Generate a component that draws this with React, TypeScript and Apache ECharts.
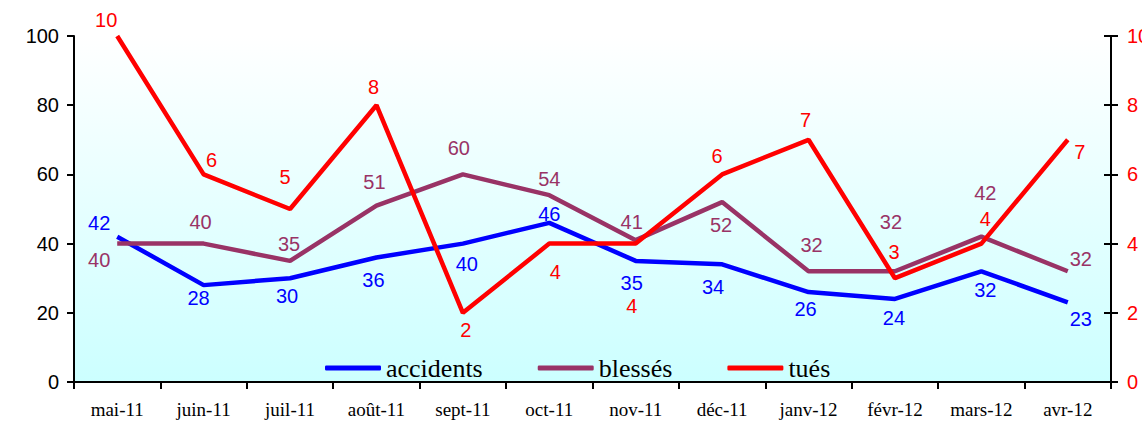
import React, { useEffect, useRef } from "react";
import * as echarts from "echarts";

const categories = ["mai-11", "juin-11", "juil-11", "août-11", "sept-11", "oct-11", "nov-11", "déc-11", "janv-12", "févr-12", "mars-12", "avr-12"];
const accidents = [42, 28, 30, 36, 40, 46, 35, 34, 26, 24, 32, 23];
const blesses = [40, 40, 35, 51, 60, 54, 41, 52, 32, 32, 42, 32];
const tues = [10, 6, 5, 8, 2, 4, 4, 6, 7, 3, 4, 7];

// label offsets (style only)
const accOff = [[-18, -14], [-5, 13], [-3, 18], [-3, 23], [4, 20], [0, -9], [-4, 22], [-9, 23], [-3, 17], [-1, 19], [4, 19], [13, 17]];
const blesOff = [[-18, 16], [-3, -22], [-1, -17], [-2, -24], [-4, -26], [0, -16], [-4, -18], [-1, 23], [3, -26], [-4, -49], [4, -44], [13, -12]];
const tuesOff = [[-11, -16], [8, -14], [-5, -32], [-3, -18], [3, 17], [6, 28], [-4, 62], [-5, -18], [-3, -20], [-1, -26], [4, -25], [12, 12]];

const SANS = "'Liberation Sans', Arial, sans-serif";
const SERIF = "'Liberation Serif', 'Times New Roman', serif";

function mk(name: string, vals: number[], offs: number[][], color: string, yAxisIndex: number) {
  return {
    name,
    type: "line",
    yAxisIndex,
    symbol: "circle",
    symbolSize: 0.1,
    itemStyle: { color },
    lineStyle: { color, width: 4.5 },
    label: {
      show: true,
      position: "inside",
      color,
      fontFamily: SANS,
      fontSize: 20,
      align: "center",
      verticalAlign: "middle",
    },
    data: vals.map((v, i) => ({ value: v, label: { offset: offs[i] } })),
  };
}

export default function App() {
  const ref = useRef<HTMLDivElement>(null);
  useEffect(() => {
    if (!ref.current) return;
    const chart = echarts.init(ref.current, undefined, { renderer: "svg" });
    chart.setOption({
      animation: false,
      backgroundColor: "#ffffff",
      grid: {
        left: 74,
        right: 31,
        top: 36,
        bottom: 39,
        containLabel: false,
        outerBoundsMode: "none",
        show: true,
        borderWidth: 0,
        backgroundColor: new echarts.graphic.LinearGradient(0, 0, 0, 1, [
          { offset: 0, color: "#ffffff" },
          { offset: 1, color: "#ccffff" },
        ]),
      },
      legend: {
        left: 320,
        top: 350,
        itemWidth: 56,
        itemHeight: 5,
        itemGap: 55,
        icon: "roundRect",
        textStyle: { fontFamily: SERIF, fontSize: 26, color: "#000" },
        data: ["accidents", "blessés", "tués"],
      },
      xAxis: {
        type: "category",
        data: categories,
        boundaryGap: true,
        axisLine: { lineStyle: { color: "#000", width: 2 } },
        axisTick: { show: true, length: 7, lineStyle: { color: "#000", width: 2 } },
        axisLabel: { color: "#000", fontFamily: SERIF, fontSize: 19, margin: 18, interval: 0 },
        splitLine: { show: false },
      },
      yAxis: [
        {
          type: "value",
          min: 0,
          max: 100,
          interval: 20,
          position: "left",
          axisLine: { show: true, lineStyle: { color: "#000", width: 2 } },
          axisTick: { show: true, length: 7, lineStyle: { color: "#000", width: 2 } },
          axisLabel: { color: "#000", fontFamily: SANS, fontSize: 20, margin: 15 },
          splitLine: { show: false },
        },
        {
          type: "value",
          min: 0,
          max: 10,
          interval: 2,
          position: "right",
          axisLine: { show: true, lineStyle: { color: "#000", width: 2 } },
          axisTick: { show: true, length: 7, lineStyle: { color: "#000", width: 2 } },
          axisLabel: { color: "#ff0000", fontFamily: SANS, fontSize: 20, margin: 16 },
          splitLine: { show: false },
        },
        {
          type: "value",
          min: 0,
          max: 10,
          interval: 2,
          position: "right",
          axisLine: { show: false },
          axisTick: { show: true, inside: true, length: 7, lineStyle: { color: "#000", width: 2 } },
          axisLabel: { show: false },
          splitLine: { show: false },
        },
      ],
      series: [
        mk("accidents", accidents, accOff, "#0000ff", 0),
        mk("blessés", blesses, blesOff, "#993366", 0),
        mk("tués", tues, tuesOff, "#ff0000", 1),
      ],
    });
    return () => chart.dispose();
  }, []);
  return (
    <div
      ref={ref}
      style={{ position: "fixed", left: 0, top: 0, width: 1142, height: 421 }}
    />
  );
}
